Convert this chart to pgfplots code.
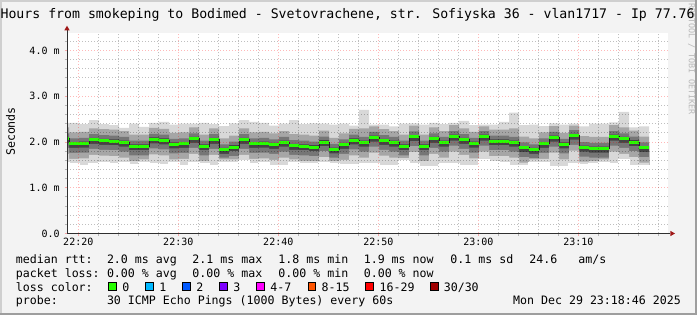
\documentclass[border=0pt]{standalone}
\usepackage{pgfplots}
\pgfplotsset{compat=1.18}
\usepackage{pgfplotstable}
\usepackage{fontspec}
\setmainfont{DejaVu Sans Mono}
\definecolor{bg}{HTML}{F3F3F3}
\definecolor{shadea}{HTML}{CFCFCF}
\definecolor{shadeb}{HTML}{9E9E9E}
\definecolor{axisc}{HTML}{303030}
\definecolor{arrowc}{HTML}{A01818}
\definecolor{sA}{HTML}{D8D8D8}
\definecolor{sB}{HTML}{A6A6A6}
\definecolor{sC}{HTML}{767676}
\definecolor{sD}{HTML}{444444}
\definecolor{medc}{HTML}{202020}
\definecolor{lc0}{HTML}{26FF00}
\definecolor{lc1}{HTML}{00B8FF}
\definecolor{lc2}{HTML}{0059FF}
\definecolor{lc3}{HTML}{7E00FF}
\definecolor{lc4}{HTML}{FF00FF}
\definecolor{lc8}{HTML}{FF5500}
\definecolor{lc16}{HTML}{FF0000}
\definecolor{lc30}{HTML}{A00000}
\newcommand{\lf}{\fontsize{11.6}{12}\selectfont}
\pgfplotstableread{
t med mn mx l2 h2 l3 h3 l4 h4
18.07 2.07 1.56 2.42 1.74 2.32 1.87 2.19 1.98 2.11
19.07 1.96 1.53 2.42 1.63 2.21 1.76 2.08 1.87 2.00
20.07 1.97 1.49 2.39 1.64 2.22 1.77 2.09 1.88 2.01
21.07 2.05 1.53 2.48 1.72 2.30 1.85 2.17 1.96 2.09
22.07 2.03 1.56 2.39 1.70 2.28 1.83 2.15 1.94 2.07
23.07 2.02 1.53 2.37 1.69 2.27 1.82 2.14 1.93 2.06
24.07 1.99 1.56 2.31 1.66 2.24 1.79 2.11 1.90 2.03
25.07 1.91 1.51 2.40 1.58 2.16 1.71 2.03 1.82 1.95
26.07 1.91 1.56 2.33 1.62 2.16 1.71 2.03 1.82 1.95
27.07 2.06 1.53 2.42 1.73 2.31 1.86 2.18 1.97 2.10
28.07 2.04 1.51 2.44 1.71 2.29 1.84 2.16 1.95 2.08
29.07 1.95 1.56 2.38 1.62 2.20 1.75 2.07 1.86 1.99
30.07 1.96 1.49 2.40 1.63 2.21 1.76 2.08 1.87 2.00
31.07 2.07 1.56 2.40 1.74 2.32 1.87 2.19 1.98 2.11
32.07 1.91 1.53 2.42 1.59 2.16 1.71 2.03 1.82 1.95
33.07 2.05 1.49 2.39 1.72 2.30 1.85 2.17 1.96 2.09
34.07 1.83 1.56 2.35 1.62 2.08 1.66 1.95 1.74 1.87
35.07 1.89 1.56 2.41 1.62 2.14 1.69 2.01 1.80 1.93
36.07 2.05 1.60 2.48 1.72 2.30 1.85 2.17 1.96 2.09
37.07 1.96 1.53 2.44 1.63 2.21 1.76 2.08 1.87 2.00
38.07 1.97 1.56 2.42 1.64 2.22 1.77 2.09 1.88 2.01
39.07 1.94 1.49 2.36 1.61 2.19 1.74 2.06 1.85 1.98
40.07 1.99 1.49 2.40 1.66 2.24 1.79 2.11 1.90 2.03
41.07 1.92 1.56 2.48 1.62 2.17 1.72 2.04 1.83 1.96
42.07 1.91 1.53 2.39 1.59 2.16 1.71 2.03 1.82 1.95
43.07 1.89 1.52 2.41 1.58 2.14 1.69 2.01 1.80 1.93
44.07 2.00 1.56 2.40 1.67 2.25 1.80 2.12 1.91 2.04
45.07 1.84 1.52 2.38 1.58 2.09 1.66 1.96 1.75 1.88
46.07 1.94 1.50 2.40 1.61 2.19 1.74 2.06 1.85 1.98
47.07 2.04 1.51 2.36 1.71 2.29 1.84 2.16 1.95 2.08
48.07 1.99 1.53 2.70 1.66 2.30 1.79 2.11 1.90 2.03
49.07 2.10 1.52 2.38 1.77 2.34 1.90 2.22 2.01 2.14
50.07 2.03 1.48 2.38 1.70 2.28 1.83 2.15 1.94 2.07
51.07 1.99 1.48 2.34 1.66 2.24 1.79 2.11 1.90 2.03
52.07 1.91 1.59 2.40 1.65 2.16 1.71 2.03 1.82 1.95
53.07 2.11 1.52 2.41 1.78 2.36 1.91 2.23 2.02 2.15
54.07 1.91 1.46 2.38 1.58 2.16 1.71 2.03 1.82 1.95
55.07 2.07 1.46 2.42 1.74 2.32 1.87 2.19 1.98 2.11
56.07 1.99 1.53 2.39 1.66 2.24 1.79 2.11 1.90 2.03
57.07 2.12 1.53 2.42 1.79 2.37 1.92 2.24 2.03 2.16
58.07 2.05 1.49 2.46 1.72 2.30 1.85 2.17 1.96 2.09
59.07 1.97 1.49 2.37 1.64 2.22 1.77 2.09 1.88 2.01
60.07 2.12 1.61 2.38 1.79 2.34 1.92 2.24 2.03 2.16
61.07 2.02 1.58 2.38 1.69 2.27 1.82 2.14 1.93 2.06
62.07 2.02 1.56 2.44 1.69 2.27 1.82 2.14 1.93 2.06
63.07 1.99 1.49 2.64 1.66 2.30 1.79 2.11 1.90 2.03
64.07 1.87 1.49 2.37 1.55 2.12 1.67 1.99 1.78 1.91
65.07 1.83 1.56 2.38 1.62 2.08 1.65 1.95 1.74 1.87
66.07 1.96 1.56 2.35 1.63 2.21 1.76 2.08 1.87 2.00
67.07 2.10 1.46 2.41 1.77 2.35 1.90 2.22 2.01 2.14
68.07 1.95 1.46 2.38 1.62 2.20 1.75 2.07 1.86 1.99
69.07 2.14 1.52 2.40 1.81 2.36 1.94 2.26 2.05 2.18
70.07 1.88 1.51 2.34 1.57 2.13 1.68 2.00 1.79 1.92
71.07 1.86 1.52 2.40 1.58 2.11 1.66 1.98 1.77 1.90
72.07 1.86 1.56 2.40 1.62 2.11 1.66 1.98 1.77 1.90
73.07 2.12 1.52 2.43 1.79 2.37 1.92 2.24 2.03 2.16
74.07 2.07 1.61 2.66 1.74 2.32 1.87 2.19 1.98 2.11
75.07 2.00 1.48 2.32 1.67 2.25 1.80 2.12 1.91 2.04
76.07 1.87 1.48 2.34 1.55 2.12 1.67 1.99 1.78 1.91
77.07 1.87 1.48 2.34 1.55 2.12 1.67 1.99 1.78 1.91
}\smoke
\begin{document}
\begin{tikzpicture}
\useasboundingbox (0pt,0pt) rectangle (697pt,315pt);
\begin{scope}
\clip (0pt,0pt) rectangle (697pt,315pt);
\fill[bg] (0pt,0pt) rectangle (697pt,315pt);
\fill[shadea] (0pt,0pt) rectangle (2pt,315pt);
\fill[shadea] (0pt,313pt) rectangle (697pt,315pt);
\fill[shadeb] (0pt,0pt) rectangle (697pt,2pt);
\fill[shadeb] (695pt,0pt) rectangle (697pt,315pt);
\begin{axis}[
  at={(67pt,81.5pt)}, anchor=south west,
  scale only axis, width=601pt, height=200.8pt,
  xmin=18.87, xmax=78.97, ymin=0, ymax=4.39,
  axis background/.style={fill=white},
  axis on top, no markers,
  axis x line*=bottom, axis y line*=left,
  axis line style={draw=axisc, line width=1pt},
  xtick={20,30,40,50,60,70},
  xticklabels={22:20,22:30,22:40,22:50,23:00,23:10},
  minor xtick={22,24,26,28,32,34,36,38,42,44,46,48,52,54,56,58,62,64,66,68,72,74,76,78},
  ytick={0,1,2,3,4},
  yticklabels={0.0,1.0 m,2.0 m,3.0 m,4.0 m},
  minor ytick={0.2,0.4,0.6,0.8,1.2,1.4,1.6,1.8,2.2,2.4,2.6,2.8,3.2,3.4,3.6,3.8,4.2},
  grid=both,
  major grid style={draw=red, opacity=0.28, line width=1pt, dash pattern=on 1pt off 2pt},
  minor grid style={draw=black, opacity=0.25, line width=1pt, dash pattern=on 1pt off 2pt},
  tick align=outside,
  major tick length=2.5pt, minor tick length=2.5pt,
  major tick style={draw=red, opacity=0.3, line width=1pt},
  minor tick style={draw=black, opacity=0.25, line width=1pt},
  ticklabel style={font=\fontsize{10}{10}\selectfont, inner sep=0pt, text=black},
  xticklabel style={yshift=-2.3pt},
  yticklabel style={xshift=-4.7pt},
  /pgf/number format/assume math mode=true,
  after end axis/.code={
    \draw[axisc, line width=1pt] (rel axis cs:0,1) -- ++(0pt,2.3pt);
    \fill[arrowc] (rel axis cs:0,1) ++(-2.7pt,2.3pt) -- ++(5.4pt,0pt) -- ++(-2.7pt,4.7pt) -- cycle;
    \draw[axisc, line width=1pt] (rel axis cs:1,0) -- ++(2.3pt,0pt);
    \fill[arrowc] (rel axis cs:1,0) ++(2.3pt,-2.7pt) -- ++(0pt,5.4pt) -- ++(4.7pt,-2.7pt) -- cycle;
  },
]
\addplot[const plot mark left, draw=none, fill=sA] table[x=t,y=mx]{\smoke} \closedcycle;
\addplot[const plot mark left, draw=none, fill=sB] table[x=t,y=h2]{\smoke} \closedcycle;
\addplot[const plot mark left, draw=none, fill=sC] table[x=t,y=h3]{\smoke} \closedcycle;
\addplot[const plot mark left, draw=none, fill=sD] table[x=t,y=h4]{\smoke} \closedcycle;
\addplot[const plot mark left, draw=none, fill=sC] table[x=t,y=l4]{\smoke} \closedcycle;
\addplot[const plot mark left, draw=none, fill=sB] table[x=t,y=l3]{\smoke} \closedcycle;
\addplot[const plot mark left, draw=none, fill=sA] table[x=t,y=l2]{\smoke} \closedcycle;
\addplot[const plot mark left, draw=white, line width=1.2pt, fill=white] table[x=t,y=mn]{\smoke} \closedcycle;
\addplot[const plot mark left, draw=medc, line width=1pt] table[x=t,y=med]{\smoke};
\addplot[jump mark left, draw=lc0, line width=3pt] table[x=t,y=med]{\smoke};
\end{axis}
% watermark and titles
\node[rotate=-90, anchor=west, inner sep=0pt, text=black!28, font=\fontsize{8.4}{9}\selectfont] at (691.5pt,312pt) {RRDTOOL / TOBI OETIKER};
\node[anchor=base west, inner sep=0pt, font=\fontsize{13.2}{14}\selectfont] at (0.4pt,296.5pt) {Hours from smokeping to Bodimed - Svetovrachene, str. Sofiyska 36 - vlan1717 - Ip 77.76};
\node[rotate=90, anchor=center, inner sep=0pt, font=\lf] at (10.5pt,183.5pt) {Seconds};
% legend lines
\node[anchor=base west, inner sep=0pt, font=\lf] at (15.7pt,51.5pt) {median rtt:};
\node[anchor=base west, inner sep=0pt, font=\lf] at (106.8pt,51.5pt) {2.0 ms avg};
\node[anchor=base west, inner sep=0pt, font=\lf] at (192.2pt,51.5pt) {2.1 ms max};
\node[anchor=base west, inner sep=0pt, font=\lf] at (278.2pt,51.5pt) {1.8 ms min};
\node[anchor=base west, inner sep=0pt, font=\lf] at (363.6pt,51.5pt) {1.9 ms now};
\node[anchor=base west, inner sep=0pt, font=\lf] at (450.2pt,51.5pt) {0.1 ms sd};
\node[anchor=base west, inner sep=0pt, font=\lf] at (529.2pt,51.5pt) {24.6};
\node[anchor=base west, inner sep=0pt, font=\lf] at (578.2pt,51.5pt) {am/s};
\node[anchor=base west, inner sep=0pt, font=\lf] at (15.7pt,37.7pt) {packet loss:};
\node[anchor=base west, inner sep=0pt, font=\lf] at (106.8pt,37.7pt) {0.00 \% avg};
\node[anchor=base west, inner sep=0pt, font=\lf] at (192.2pt,37.7pt) {0.00 \% max};
\node[anchor=base west, inner sep=0pt, font=\lf] at (278.2pt,37.7pt) {0.00 \% min};
\node[anchor=base west, inner sep=0pt, font=\lf] at (363.6pt,37.7pt) {0.00 \% now};
\node[anchor=base west, inner sep=0pt, font=\lf] at (15.7pt,23.9pt) {loss color:};
\foreach \bx/\tx/\col/\lab in {108.4/122.2/lc0/0, 145.3/159.2/lc1/1, 182.2/196.2/lc2/2, 219.1/233.2/lc3/3, 256/270.2/lc4/4-7, 307.6/321.4/lc8/8-15, 365.3/379.4/lc16/16-29, 430.2/443.6/lc30/{30/30}}{
  \filldraw[fill=\col, draw=black, line width=1pt] (\bx pt+0.5pt,24.4pt) rectangle (\bx pt+8pt,32pt);
  \node[anchor=base west, inner sep=0pt, font=\lf] at (\tx pt,23.9pt) {\lab};
}
\node[anchor=base west, inner sep=0pt, font=\lf] at (15.7pt,10.1pt) {probe:};
\node[anchor=base west, inner sep=0pt, font=\lf] at (106.8pt,10.1pt) {30 ICMP Echo Pings (1000 Bytes) every 60s};
\node[anchor=base east, inner sep=0pt, font=\lf] at (681pt,10.1pt) {Mon Dec 29 23:18:46 2025};
\end{scope}
\end{tikzpicture}
\end{document}
